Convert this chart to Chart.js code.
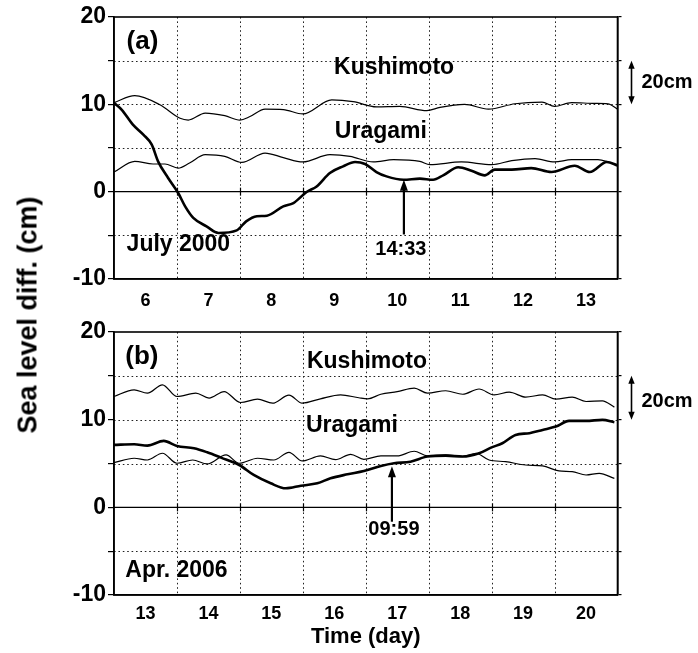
<!DOCTYPE html>
<html>
<head>
<meta charset="utf-8">
<script src="https://cdn.jsdelivr.net/npm/chart.js@4.4.1/dist/chart.umd.min.js"></script>
<style>
  html, body { margin: 0; padding: 0; background: #fff; }
  #wrap { position: relative; width: 698px; height: 653px; overflow: hidden; background: #fff; }
  #wrap canvas { position: absolute; left: 0; }
  #chartA { top: 0; }
  #chartB { top: 310px; }
  #yTitle {
    position: absolute; left: 28px; top: 315px;
    transform: translate(-50%, -50%) rotate(-90deg);
    font: bold 27px "Liberation Sans", Arial, Helvetica, sans-serif;
    white-space: nowrap; color: #000;
  }
</style>
</head>
<body>
<div id="wrap">
  <canvas id="chartA" width="698" height="310"></canvas>
  <canvas id="chartB" width="698" height="343"></canvas>
  <div id="yTitle">Sea level diff. (cm)</div>
</div>
<script>
// ---- Panel (a): July 2000 (time in days, values in cm) ----
const daysA = ['6', '7', '8', '9', '10', '11', '12', '13'];

const kushimotoA_t = [6.0, 6.33, 6.73, 7.05, 7.18, 7.45, 7.76, 8.0, 8.16, 8.4, 8.69, 9.0, 9.46, 9.8,
  10.17, 10.54, 10.97, 11.18, 11.57, 11.95, 12.37, 12.8, 13.0, 13.27, 13.64, 13.85, 14.0];
const kushimotoA_cm = [10.2, 11.0, 9.95, 8.4, 8.2, 9.0, 8.7, 8.2, 8.6, 9.45, 9.4, 8.9, 10.5, 10.3,
  9.7, 9.76, 9.27, 9.65, 10.0, 9.45, 10.07, 10.26, 9.76, 10.2, 10.1, 10.06, 9.45];

const uragamiA_t = [6.0, 6.33, 6.62, 6.81, 7.02, 7.2, 7.45, 7.76, 8.03, 8.4, 8.69, 9.0, 9.43, 9.75,
  10.12, 10.44, 10.86, 11.02, 11.52, 12.0, 12.32, 12.69, 13.0, 13.27, 13.69, 13.85, 14.0];
const uragamiA_cm = [2.25, 3.47, 3.17, 3.17, 2.7, 3.28, 4.23, 4.04, 3.35, 4.42, 3.9, 3.4, 4.23, 4.04,
  3.4, 3.66, 3.47, 3.09, 3.4, 3.09, 3.55, 3.78, 3.4, 3.66, 3.66, 3.4, 3.0];

const diffA_t = [6.0, 6.12, 6.3, 6.47, 6.6, 6.7, 6.86, 7.02, 7.13, 7.26, 7.47, 7.66, 7.95, 8.1, 8.27,
  8.43, 8.69, 8.85, 9.06, 9.22, 9.43, 9.64, 9.83, 9.99, 10.17, 10.33, 10.6, 10.86, 11.07, 11.23,
  11.47, 11.68, 11.89, 12.05, 12.32, 12.63, 12.95, 13.32, 13.56, 13.83, 14.0];
const diffA_cm = [10.15, 9.4, 7.67, 6.5, 5.38, 3.47, 1.57, -0.15, -1.68, -3.0, -3.97, -4.73, -4.43, -3.4, -2.82,
  -2.75, -1.68, -1.3, -0.04, 0.6, 2.14, 2.9, 3.4, 3.17, 2.25, 1.75, 1.37, 1.49, 1.37, 1.87,
  2.8, 2.4, 1.87, 2.52, 2.52, 2.7, 2.25, 2.97, 2.25, 3.4, 3.0];

// ---- Panel (b): April 2006 ----
const daysB = ['13', '14', '15', '16', '17', '18', '19', '20'];

const kushimotoB_t = [13.0, 13.32, 13.53, 13.77, 14.0, 14.3, 14.51, 14.75, 15.01, 15.28, 15.52, 15.78,
  15.99, 16.28, 16.6, 16.89, 17.03, 17.24, 17.5, 17.77, 17.98, 18.27, 18.54, 18.8, 19.04, 19.28,
  19.54, 19.81, 20.02, 20.28, 20.5, 20.76, 20.95];
const kushimotoB_cm = [12.64, 13.4, 13.03, 13.98, 12.64, 13.03, 12.46, 13.2, 11.96, 12.34, 11.88, 12.8,
  11.88, 12.38, 12.83, 12.5, 12.38, 12.9, 13.2, 13.6, 13.03, 13.3, 12.9, 13.5, 12.83, 13.14,
  12.57, 12.83, 12.34, 12.57, 12.07, 12.15, 11.43];

const uragamiB_t = [13.0, 13.32, 13.53, 13.77, 14.0, 14.25, 14.48, 14.78, 14.99, 15.28, 15.54, 15.78,
  15.99, 16.28, 16.52, 16.76, 16.97, 17.24, 17.5, 17.77, 17.98, 18.27, 18.54, 18.75, 18.96, 19.22,
  19.54, 19.81, 20.07, 20.28, 20.5, 20.71, 20.95];
const uragamiB_cm = [5.1, 5.6, 5.4, 6.17, 5.03, 5.4, 4.95, 5.98, 5.03, 5.6, 5.4, 6.28,
  5.29, 5.86, 5.44, 6.05, 5.48, 5.86, 5.86, 6.4, 5.86, 6.0, 5.79, 6.17, 5.4, 5.21,
  4.83, 4.72, 4.15, 4.07, 3.69, 3.88, 3.3];

const diffB_t = [13.0, 13.32, 13.53, 13.79, 14.0, 14.27, 14.48, 14.7, 14.99, 15.22, 15.49, 15.73,
  15.97, 16.23, 16.44, 16.71, 16.97, 17.24, 17.45, 17.71, 17.98, 18.27, 18.54, 18.8, 18.99, 19.17,
  19.38, 19.6, 19.81, 20.02, 20.23, 20.5, 20.76, 20.95];
const diffB_cm = [7.12, 7.2, 7.04, 7.58, 7.0, 6.74, 6.28, 5.67, 4.83, 3.69, 2.74, 2.17,
  2.47, 2.74, 3.31, 3.77, 4.15, 4.72, 5.03, 5.21, 5.79, 5.9, 5.79, 6.17, 6.81, 7.31,
  8.26, 8.46, 8.83, 9.21, 9.86, 9.86, 9.98, 9.71];

// Marked times (day, hh:mm)
const markA = { day: 10, clock: '14:33' };
const markB = { day: 17, clock: '09:59' };

const FONT = '"Liberation Sans", Arial, Helvetica, sans-serif';
const PLOT_LEFT = 114, PLOT_RIGHT = 617.5, CANVAS_W = 698;

function pts(ts, vs) { return ts.map((t, i) => ({ x: t, y: vs[i] })); }
function clockToDay(day, hhmm) {
  const [h, m] = hhmm.split(':').map(Number);
  return day + (h * 60 + m) / 1440;
}
function interp(ts, vs, x) {
  for (let i = 1; i < ts.length; i++) {
    if (x <= ts[i]) {
      const f = (x - ts[i - 1]) / (ts[i] - ts[i - 1]);
      return vs[i - 1] + f * (vs[i] - vs[i - 1]);
    }
  }
  return vs[vs.length - 1];
}
function arrowHead(ctx, x1, y1, x2, y2, len, half) {
  const a = Math.atan2(y2 - y1, x2 - x1);
  const c = Math.cos(a), s = Math.sin(a);
  ctx.beginPath();
  ctx.moveTo(x2, y2);
  ctx.lineTo(x2 - len * c + half * s, y2 - len * s - half * c);
  ctx.lineTo(x2 - len * c - half * s, y2 - len * s + half * c);
  ctx.closePath();
  ctx.fill();
}

// Grid, zero line, frame, labels, arrows and the 20 cm scale bar
const decor = {
  id: 'decor',
  beforeDatasetsDraw(chart, args, o) {
    const { ctx, chartArea: a, scales: { x, y } } = chart;
    ctx.save();
    ctx.strokeStyle = '#222';
    ctx.lineWidth = 1;
    ctx.setLineDash([1.6, 2.8]);
    for (let v = y.min + 5; v < y.max; v += 5) {
      if (v === 0) continue;
      const py = Math.round(y.getPixelForValue(v)) + 0.5;
      ctx.beginPath(); ctx.moveTo(a.left, py); ctx.lineTo(a.right, py); ctx.stroke();
    }
    for (let d = Math.floor(x.min) + 1; d < x.max; d++) {
      const px = Math.round(x.getPixelForValue(d)) + 0.5;
      ctx.beginPath(); ctx.moveTo(px, a.top); ctx.lineTo(px, a.bottom); ctx.stroke();
    }
    ctx.setLineDash([]);
    ctx.strokeStyle = '#000';
    ctx.lineWidth = 1.4;
    const p0 = y.getPixelForValue(0);
    ctx.beginPath(); ctx.moveTo(a.left, p0); ctx.lineTo(a.right, p0); ctx.stroke();
    ctx.lineWidth = 1.2;
    for (let d = Math.floor(x.min) + 1; d < x.max; d++) {
      const px = Math.round(x.getPixelForValue(d)) + 0.5;
      ctx.beginPath(); ctx.moveTo(px, p0 - 4); ctx.lineTo(px, p0 + 4); ctx.stroke();
    }
    ctx.restore();
  },
  afterDatasetsDraw(chart, args, o) {
    const { ctx, chartArea: a, scales: { x, y } } = chart;
    ctx.save();
    ctx.fillStyle = '#000';
    ctx.strokeStyle = '#000';
    ctx.textBaseline = 'middle';
    o.texts.forEach(t => {
      ctx.font = 'bold ' + t.size + 'px ' + FONT;
      ctx.textAlign = t.align;
      ctx.fillText(t.text, x.getPixelForValue(t.x), y.getPixelForValue(t.y));
    });
    // time marker arrow
    const m = o.mark;
    const mx = clockToDay(m.day, m.clock);
    const px = x.getPixelForValue(mx);
    const tipY = y.getPixelForValue(interp(m.ts, m.vs, mx) + m.tipOffset);
    const tailY = y.getPixelForValue(m.tail);
    ctx.lineWidth = 2.2;
    ctx.beginPath(); ctx.moveTo(px, tailY); ctx.lineTo(px, tipY + 6); ctx.stroke();
    arrowHead(ctx, px, tailY, px, tipY, 11, 4);
    ctx.font = 'bold 20px ' + FONT;
    ctx.textAlign = 'center';
    ctx.fillText(m.clock, px + m.labelDx, y.getPixelForValue(m.labelY));
    // 20 cm scale bar
    const bx = a.right + 14;
    const b1 = y.getPixelForValue(15), b2 = y.getPixelForValue(10);
    ctx.lineWidth = 1.6;
    ctx.beginPath(); ctx.moveTo(bx, b1 + 5); ctx.lineTo(bx, b2 - 5); ctx.stroke();
    arrowHead(ctx, bx, b2, bx, b1, 8, 3.2);
    arrowHead(ctx, bx, b1, bx, b2, 8, 3.2);
    ctx.font = 'bold 20px ' + FONT;
    ctx.textAlign = 'left';
    ctx.fillText('20cm', a.right + 24, y.getPixelForValue(o.barLabelY));
    ctx.restore();
  },
  afterDraw(chart) {
    const { ctx, chartArea: a } = chart;
    ctx.save();
    ctx.strokeStyle = '#000';
    ctx.lineWidth = 1.6;
    ctx.strokeRect(a.left, a.top, a.right - a.left, a.bottom - a.top);
    ctx.restore();
  }
};

function makePanel(id, p) {
  const xMin = Number(p.days[0]);
  const xMax = xMin + p.days.length;
  return new Chart(document.getElementById(id), {
    type: 'line',
    data: {
      datasets: [
        { label: 'Kushimoto', data: pts(p.kt, p.kv), borderColor: '#000', borderWidth: 1.2 },
        { label: 'Uragami', data: pts(p.ut, p.uv), borderColor: '#000', borderWidth: 1.2 },
        { label: 'Difference', data: pts(p.dt, p.dv), borderColor: '#000', borderWidth: 2.6 }
      ]
    },
    options: {
      responsive: false,
      animation: false,
      devicePixelRatio: 1,
      elements: {
        point: { radius: 0 },
        line: { cubicInterpolationMode: 'monotone', fill: false }
      },
      layout: { padding: { top: p.padTop, bottom: 0, left: 0, right: 0 } },
      plugins: {
        legend: { display: false },
        tooltip: { enabled: false },
        decor: { texts: p.texts, mark: p.mark, barLabelY: p.barLabelY }
      },
      scales: {
        x: {
          type: 'linear', min: xMin, max: xMax,
          afterBuildTicks: s => { s.ticks = p.days.map((_, i) => ({ value: xMin + 0.5 + i })); },
          afterFit: s => { s.height = p.xAxisH; },
          ticks: {
            callback: (v, i) => p.days[i],
            autoSkip: false, maxRotation: 0, color: '#000', padding: p.tickPad,
            font: { family: FONT, size: 18, weight: 'bold' }
          },
          grid: { drawOnChartArea: false, drawTicks: false },
          border: { display: true, color: '#000', width: 1.6 },
          title: {
            display: p.showTitle, text: 'Time (day)', color: '#000',
            font: { family: FONT, size: 22, weight: 'bold' },
            padding: { top: 0, bottom: 3 }
          }
        },
        y: {
          position: 'left', min: -10, max: 20,
          afterFit: s => { s.width = PLOT_LEFT; },
          ticks: {
            stepSize: 5, color: '#000', padding: 2,
            callback: v => (v % 10 === 0 ? String(v) : ''),
            font: { family: FONT, size: 23, weight: 'bold' }
          },
          grid: { drawOnChartArea: false, drawTicks: true, tickLength: 6, color: '#000', lineWidth: 1.2 },
          border: { display: true, color: '#000', width: 1.6 }
        },
        y2: {
          position: 'right', min: -10, max: 20,
          afterFit: s => { s.width = CANVAS_W - PLOT_RIGHT; },
          ticks: { stepSize: 5, display: false },
          grid: { drawOnChartArea: false, drawTicks: true, tickLength: 4, color: '#000', lineWidth: 1.2 },
          border: { display: true, color: '#000', width: 1.6 }
        }
      }
    },
    plugins: [decor]
  });
}

makePanel('chartA', {
  days: daysA, kt: kushimotoA_t, kv: kushimotoA_cm, ut: uragamiA_t, uv: uragamiA_cm,
  dt: diffA_t, dv: diffA_cm,
  padTop: 17, xAxisH: 31, tickPad: 11, showTitle: false, barLabelY: 12.5,
  texts: [
    { text: '(a)', x: 6.2, y: 17.2, size: 26, align: 'left' },
    { text: 'Kushimoto', x: 10.45, y: 14.2, size: 23, align: 'center' },
    { text: 'Uragami', x: 10.24, y: 6.9, size: 23, align: 'center' },
    { text: 'July 2000', x: 6.2, y: -6.06, size: 23, align: 'left' }
  ],
  mark: { day: markA.day, clock: markA.clock, ts: diffA_t, vs: diffA_cm, tipOffset: 0, tail: -4.9, labelY: -6.67, labelDx: -3 }
});

makePanel('chartB', {
  days: daysB, kt: kushimotoB_t, kv: kushimotoB_cm, ut: uragamiB_t, uv: uragamiB_cm,
  dt: diffB_t, dv: diffB_cm,
  padTop: 22, xAxisH: 58, tickPad: 8, showTitle: true, barLabelY: 12.1,
  texts: [
    { text: '(b)', x: 13.18, y: 17.2, size: 26, align: 'left' },
    { text: 'Kushimoto', x: 17.02, y: 16.6, size: 23, align: 'center' },
    { text: 'Uragami', x: 16.78, y: 9.3, size: 23, align: 'center' },
    { text: 'Apr. 2006', x: 13.18, y: -7.17, size: 23, align: 'left' }
  ],
  mark: { day: markB.day, clock: markB.clock, ts: diffB_t, vs: diffB_cm, tipOffset: -0.3, tail: -1.64, labelY: -2.55, labelDx: 2 }
});
</script>
</body>
</html>
